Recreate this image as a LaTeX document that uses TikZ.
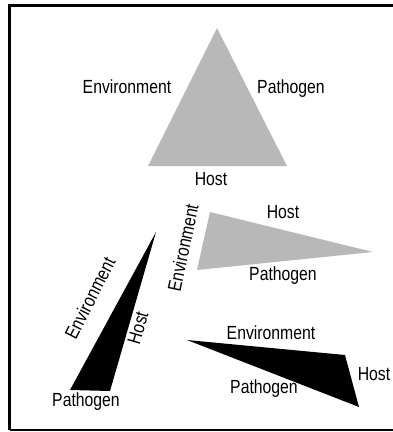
\documentclass[tikz,border=0pt]{standalone}
\usepackage{fontspec}
\setmainfont{Liberation Sans}[FakeStretch=0.83]
\begin{document}
\begin{tikzpicture}[x=1pt, y=-1pt,
    label/.style={font=\fontsize{19}{19}\selectfont, inner sep=0pt},
    grayside/.style={fill=black!28},
    blackside/.style={fill=black}]

    \useasboundingbox (0,0) rectangle (393,432);

    % Frame
    \draw[line width=3pt] (9.5,430) -- (9.5,5.5) -- (400,5.5);
    \draw[line width=1.5pt] (9.5,430) -- (400,430);

    % Balanced triangle
    \coordinate (a1) at (217,28);
    \coordinate (a2) at (148,166);
    \coordinate (a3) at (287,166);
    \fill[grayside] (a1) -- (a2) -- (a3) -- cycle;
    \node[label] (aenv) at (127,87) {Environment};
    \node[label] (apat) at (291,89) {Pathogen};
    \node[label] (ahost) at (211,179) {Host};

    % Gray triangle, long sides host and pathogen
    \coordinate (b1) at (210,212);
    \coordinate (b2) at (197,270);
    \coordinate (b3) at (373,252);
    \fill[grayside] (b1) -- (b2) -- (b3) -- cycle;
    \node[label, rotate=78] (benv) at (183,248) {Environment};
    \node[label] (bhost) at (283,212) {Host};
    \node[label] (bpat) at (283,276) {Pathogen};

    % Black triangle, long sides environment and host
    \coordinate (c1) at (156,232);
    \coordinate (c2) at (70,390);
    \coordinate (c3) at (110,391);
    \fill[blackside] (c1) -- (c2) -- (c3) -- cycle;
    \node[label, rotate=63] (cenv) at (90,298) {Environment};
    \node[label, rotate=74] (chost) at (138,328) {Host};
    \node[label] (cpat) at (86,402) {Pathogen};

    % Black triangle, long sides environment and pathogen
    \coordinate (d1) at (187,340);
    \coordinate (d2) at (345,355);
    \coordinate (d3) at (359,407);
    \fill[blackside] (d1) -- (d2) -- (d3) -- cycle;
    \node[label] (denv) at (271,333) {Environment};
    \node[label] (dhost) at (374,374) {Host};
    \node[label] (dpat) at (264,389) {Pathogen};

\end{tikzpicture}
\end{document}
